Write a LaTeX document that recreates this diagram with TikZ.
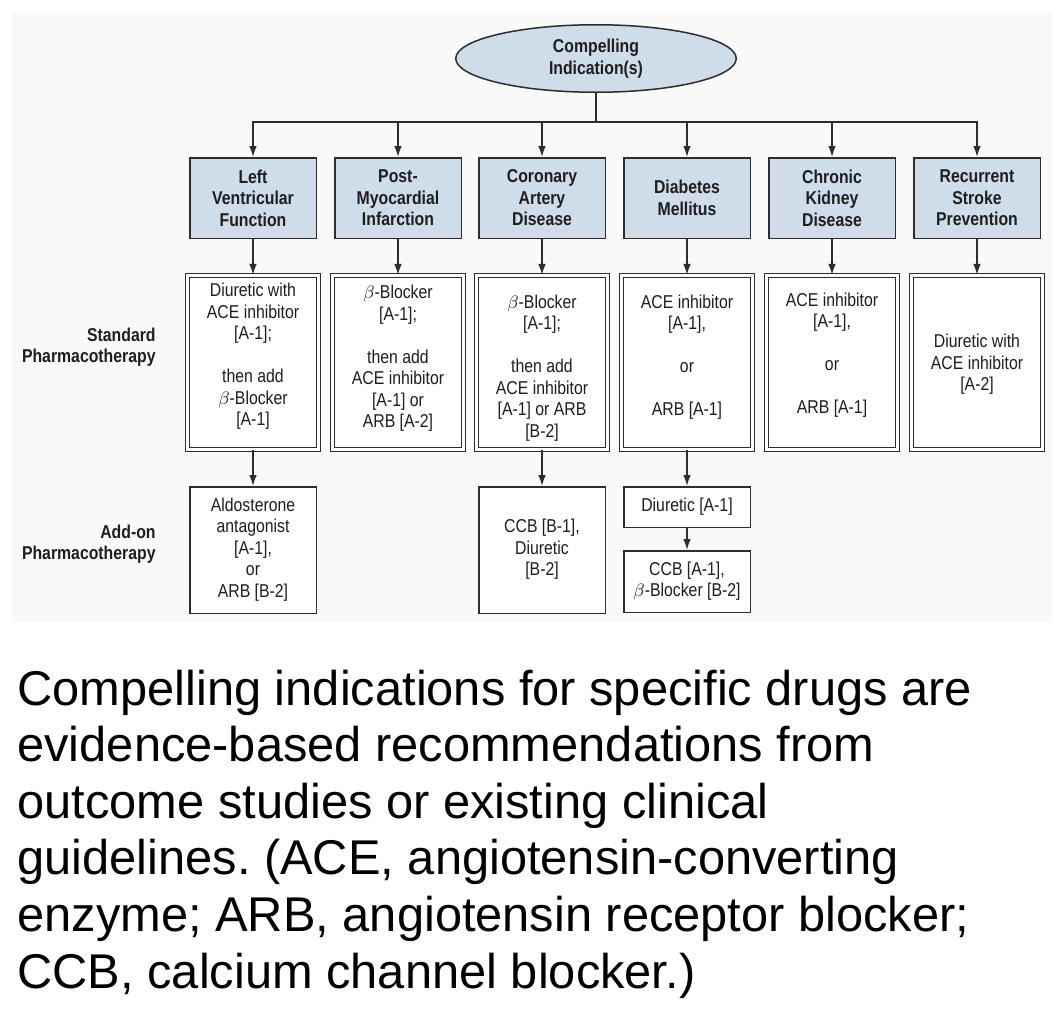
\documentclass[tikz,border=0pt]{standalone}
\usepackage{fontspec}
\setmainfont{Liberation Sans}
\newfontfamily\condfont[FakeStretch=0.85]{Liberation Sans}
\usetikzlibrary{shapes.geometric,arrows.meta}
\definecolor{boxblue}{RGB}{207,220,234}
\definecolor{edgec}{RGB}{45,45,45}
\definecolor{bgc}{RGB}{249,250,248}
\definecolor{ink}{RGB}{30,30,30}
\newcommand\lift[2]{\raisebox{#1}[\height][\depth]{\begin{tabular}{@{}c@{}}#2\end{tabular}}}
\frenchspacing
\begin{document}
\begin{tikzpicture}[x=0.5pt,y=-0.5pt,
  every node/.style={font=\condfont\fontsize{9.3}{10.75}\selectfont, text=ink, inner sep=0pt},
  hdr/.style={draw=edgec, line width=0.75pt, fill=boxblue, minimum width=63.25pt, minimum height=40.25pt,
              font=\condfont\bfseries\fontsize{9.3}{10.75}\selectfont, align=center},
  ell/.style={ellipse, draw=edgec, line width=0.75pt, fill=boxblue, minimum width=140.25pt, minimum height=33.75pt,
              font=\condfont\bfseries\fontsize{9.3}{11}\selectfont, align=center},
  stdbox/.style={draw=edgec, line width=0.6pt, double=white, double distance=1.3pt, fill=white,
                 minimum width=65.5pt, minimum height=87pt},
  addbox/.style={draw=edgec, line width=0.75pt, fill=white, minimum width=63.25pt},
  lab/.style={font=\condfont\bfseries\fontsize{9.3}{10.75}\selectfont, align=right, anchor=east},
  link/.style={draw=edgec, line width=0.75pt},
  arr/.style={link, -{Latex[length=5.5pt,width=3.8pt]}}
]
\useasboundingbox (0,0) rectangle (1064,1012);
\fill[bgc] (12,13) rectangle (1052,622);

% root
\node[ell] (root) at (596,58.5) {Compelling\\Indication(s)};
\coordinate (bus) at (596,122);

% indications
\node[hdr] (t1) at (253,198) {Left\\Ventricular\\Function};
\node[hdr] (t2) at (398,198) {Post-\\Myocardial\\Infarction};
\node[hdr] (t3) at (542,198) {Coronary\\Artery\\Disease};
\node[hdr] (t4) at (687,198) {Diabetes\\Mellitus};
\node[hdr] (t5) at (832,198) {Chronic\\Kidney\\Disease};
\node[hdr] (t6) at (977,198) {Recurrent\\Stroke\\Prevention};

% standard pharmacotherapy
\node[stdbox] (s1) at (253,362.5) {\lift{2.8pt}{Diuretic with\\ACE inhibitor\\{[A-1];}\\ \\then add\\$\beta$-Blocker\\{[A-1]}}};
\node[stdbox] (s2) at (398,362.5) {\lift{1.8pt}{$\beta$-Blocker\\{[A-1];}\\ \\then add\\ACE inhibitor\\{[A-1] or}\\ARB [A-2]}};
\node[stdbox] (s3) at (542,362.5) {\lift{-2.9pt}{$\beta$-Blocker\\{[A-1];}\\ \\then add\\ACE inhibitor\\{[A-1] or ARB}\\{[B-2]}}};
\node[stdbox] (s4) at (687,362.5) {\lift{2.5pt}{ACE inhibitor\\{[A-1],}\\ \\or\\ \\ARB [A-1]}};
\node[stdbox] (s5) at (832,362.5) {\lift{3.5pt}{ACE inhibitor\\{[A-1],}\\ \\or\\ \\ARB [A-1]}};
\node[stdbox] (s6) at (977,362.5) {\lift{-1.2pt}{Diuretic with\\ACE inhibitor\\{[A-2]}}};

% add-on pharmacotherapy
\node[addbox, minimum height=63.25pt] (a1) at (253,550) {\lift{0pt}{Aldosterone\\antagonist\\{[A-1],}\\or\\ARB [B-2]}};
\node[addbox, minimum height=63.25pt] (a3) at (542,550) {\lift{0pt}{CCB [B-1],\\Diuretic\\{[B-2]}}};
\node[addbox, minimum height=20.25pt] (a4) at (687,507) {Diuretic [A-1]};
\node[addbox, minimum height=30.75pt] (a5) at (687,581.5) {\lift{0pt}{CCB [A-1],\\$\beta$-Blocker [B-2]}};

% row labels
\node[lab] (l1) at (156,347) {Standard\\Pharmacotherapy};
\node[lab] (l2) at (156,544) {Add-on\\Pharmacotherapy};

% connectors
\draw[link] (root.south) -- (bus);
\foreach \t in {t1,t2,t3,t4,t5,t6} {\draw[arr] (bus) -| (\t.north);}
\draw[arr] (t1.south) -- (s1.north);
\draw[arr] (t2.south) -- (s2.north);
\draw[arr] (t3.south) -- (s3.north);
\draw[arr] (t4.south) -- (s4.north);
\draw[arr] (t5.south) -- (s5.north);
\draw[arr] (t6.south) -- (s6.north);
\draw[arr] (s1.south) -- (a1.north);
\draw[arr] (s3.south) -- (a3.north);
\draw[arr] (s4.south) -- (a4.north);
\draw[arr] (a4.south) -- (a5.north);

% caption
\node[anchor=base west, font=\fontsize{24.4}{28.3}\selectfont, text=black] (cap) at (17,705)
 {\parbox[t]{520pt}{\raggedright Compelling indications for specific drugs are\\
 evidence-based recommendations from\\
 outcome studies or existing clinical\\
 guidelines. (ACE, angiotensin-converting\\
 enzyme; ARB, angiotensin receptor blocker;\\
 CCB, calcium channel blocker.)}};
\end{tikzpicture}
\end{document}
